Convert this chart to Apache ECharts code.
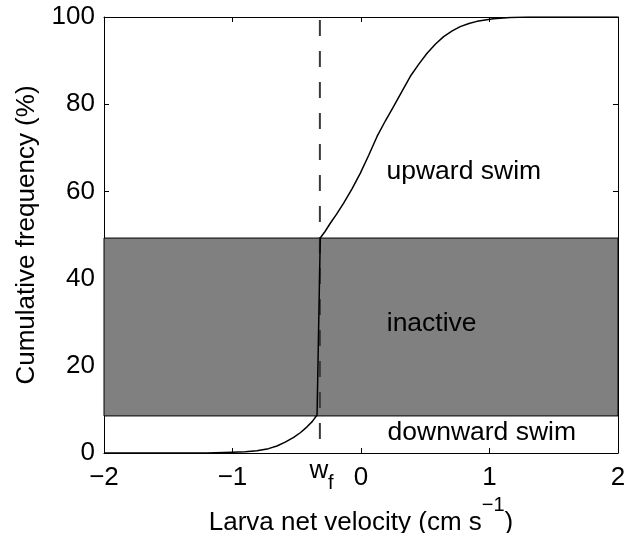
<!DOCTYPE html>
<html>
<head>
<meta charset="utf-8">
<script src="https://cdn.jsdelivr.net/npm/echarts@6/dist/echarts.min.js"></script>
<style>
  html, body { margin: 0; padding: 0; background: #fff; }
  #chart { width: 627px; height: 533px; }
</style>
</head>
<body>
<div id="chart"></div>
<script>
// Cumulative distribution of larva net velocity (cm/s) vs. cumulative frequency (%)
const velocity = [
  -2.0, -1.2, -1.0, -0.9, -0.81, -0.72, -0.654, -0.59, -0.524, -0.47, -0.42, -0.38, -0.342,
  -0.317, -0.28, -0.239, -0.19, -0.135, -0.07, -0.005, 0.06, 0.125, 0.19, 0.254, 0.32,
  0.384, 0.45, 0.514, 0.58, 0.643, 0.71, 0.772, 0.84, 0.903, 1.03, 1.16, 1.3, 2.0
];
const cumFreq = [
  0, 0, 0.2, 0.3, 0.5, 1.0, 1.6, 2.5, 3.6, 4.7, 6.0, 7.2, 8.7,
  49.3, 50.8, 52.7, 54.8, 57.3, 60.6, 64.2, 68.3, 72.6, 76.2, 79.5, 83.0,
  86.4, 89.2, 91.7, 93.8, 95.5, 96.8, 97.8, 98.5, 99.0, 99.6, 99.9, 100, 100
];

// fall velocity w_f (dashed reference line)
const wf = -0.32;

// cumulative-frequency bounds of the "inactive" band
const inactiveLow = 8.5;
const inactiveHigh = 49.3;

// behaviour region names and their anchor points (velocity, %)
const regionNames = ['upward swim', 'inactive', 'downward swim'];
const regionVel = [0.80, 0.55, 0.94];
const regionFreq = [64.6, 29.6, 4.6];

const xRange = [-2, 2];
const yRange = [0, 100];

const FONT = '"Liberation Sans", Arial, Helvetica, sans-serif';
const minus = v => String(v).replace('-', '\u2212');

const chart = echarts.init(document.getElementById('chart'), null, { renderer: 'canvas' });

const axisLine = { show: true, onZero: false, lineStyle: { color: '#000', width: 1 } };
const tickIn = { show: true, inside: true, length: 5, lineStyle: { color: '#000', width: 1 } };

chart.setOption({
  animation: false,
  backgroundColor: '#fff',
  grid: { left: 104, right: 9, top: 17, bottom: 80, containLabel: false, outerBoundsMode: 'none' },
  xAxis: [
    {
      type: 'value', min: xRange[0], max: xRange[1], interval: 1,
      axisLine, axisTick: tickIn, splitLine: { show: false },
      axisLabel: { color: '#000', fontSize: 26, fontFamily: FONT, margin: 12, formatter: minus },
      name: '{m|Larva net velocity (cm s}{sup|\u22121}{m|)}',
      nameLocation: 'middle', nameGap: 37,
      nameTextStyle: {
        color: '#000', fontSize: 26, fontFamily: FONT,
        rich: {
          m: { fontSize: 26, lineHeight: 40, fontFamily: FONT, color: '#000', verticalAlign: 'bottom' },
          sup: { fontSize: 20, lineHeight: 20, fontFamily: FONT, color: '#000', verticalAlign: 'top' }
        }
      }
    },
    {
      type: 'value', position: 'top', min: xRange[0], max: xRange[1], interval: 1,
      axisLine, axisTick: tickIn, axisLabel: { show: false }, splitLine: { show: false }
    }
  ],
  yAxis: [
    {
      type: 'value', position: 'left', min: yRange[0], max: yRange[1], interval: 20,
      axisLine, axisTick: tickIn, splitLine: { show: false },
      axisLabel: { color: '#000', fontSize: 26, fontFamily: FONT, margin: 9 },
      name: 'Cumulative frequency (%)',
      nameLocation: 'middle', nameGap: 64,
      nameTextStyle: { color: '#000', fontSize: 26, fontFamily: FONT }
    },
    {
      type: 'value', position: 'right', min: yRange[0], max: yRange[1], interval: 20,
      axisLine, axisTick: tickIn, axisLabel: { show: false }, splitLine: { show: false }
    }
  ],
  series: [
    {
      // grey "inactive" band across the full velocity range
      type: 'line', data: [], z: 1, silent: true,
      markArea: {
        silent: true,
        itemStyle: { color: '#808080', borderColor: '#000', borderWidth: 1 },
        label: { show: false },
        data: [[{ xAxis: xRange[0], yAxis: inactiveLow }, { xAxis: xRange[1], yAxis: inactiveHigh }]]
      }
    },
    {
      // w_f reference line
      type: 'line', z: 3, silent: true, symbol: 'none',
      data: [[wf, yRange[1]], [wf, yRange[0]]],
      lineStyle: { color: '#3a3a3a', width: 2, type: [16, 15], dashOffset: 28 },
      markPoint: {
        symbol: 'circle', symbolSize: 0, silent: true,
        itemStyle: { opacity: 1 },
        data: [
          { coord: [wf, 0], label: { show: true, formatter: 'w', fontSize: 26, offset: [-1, 18] } },
          { coord: [wf, 0], label: { show: true, formatter: 'f', fontSize: 20, offset: [11, 30] } }
        ],
        label: { position: 'inside', color: '#000', fontFamily: FONT }
      }
    },
    {
      // cumulative frequency curve
      type: 'line', z: 4, silent: true, symbol: 'none',
      data: velocity.map((v, i) => [v, cumFreq[i]]),
      lineStyle: { color: '#000', width: 1.5 }
    },
    {
      // region labels
      type: 'scatter', z: 5, silent: true, symbolSize: 0,
      itemStyle: { opacity: 1 },
      data: regionNames.map((n, i) => ({ name: n, value: [regionVel[i], regionFreq[i]] })),
      label: {
        show: true, position: 'inside', formatter: p => p.name,
        color: '#000', fontSize: 26.5, fontFamily: FONT
      }
    }
  ]
});
</script>
</body>
</html>
